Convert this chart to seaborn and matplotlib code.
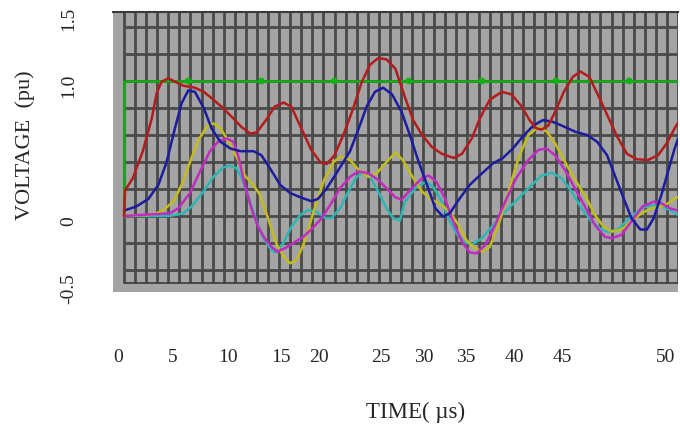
import numpy as np
import pandas as pd
import matplotlib
matplotlib.use("Agg")
import matplotlib.pyplot as plt
import seaborn as sns
from matplotlib.transforms import ScaledTranslation

# Dados (tempo em µs, tensão em pu)
red_t = [0, 0.1, 0.8, 1.7, 2.5, 2.95, 3.4, 4.0, 4.6, 5.35, 6.4, 7.2, 8.1, 8.8, 9.9,
         10.6, 11.4, 12.0, 12.9, 13.6, 14.4, 15.1, 16.0, 16.9, 17.7, 18.3, 19.0, 19.8,
         20.7, 21.45, 22.2, 22.95, 23.7, 24.5, 25.4, 26.1, 26.9, 27.8, 28.7, 29.75,
         30.5, 31.4, 32.1, 33.0, 34.1, 35.0, 35.9, 36.6, 37.2, 37.7, 38.3, 38.9, 39.7,
         40.5, 41.2, 42.0, 42.7, 43.6, 44.5, 45.4, 46.3, 47.3, 48.2, 49.0, 49.7, 50]
red_v = [0, 0.19, 0.28, 0.48, 0.72, 0.91, 0.995, 1.02, 0.995, 0.965, 0.95, 0.92, 0.86,
         0.81, 0.72, 0.66, 0.61, 0.62, 0.72, 0.81, 0.84, 0.81, 0.65, 0.49, 0.40, 0.385,
         0.45, 0.60, 0.80, 0.99, 1.12, 1.17, 1.16, 1.09, 0.87, 0.71, 0.60, 0.51, 0.46,
         0.43, 0.46, 0.575, 0.72, 0.86, 0.92, 0.90, 0.81, 0.71, 0.65, 0.64, 0.67, 0.77,
         0.92, 1.03, 1.07, 1.03, 0.91, 0.75, 0.59, 0.46, 0.42, 0.415, 0.45, 0.54, 0.65,
         0.69]

blue_t = [0, 1.1, 2.2, 3.1, 3.85, 4.6, 5.2, 5.8, 6.4, 7.2, 7.9, 8.7, 9.6, 10.5, 11.7,
          12.4, 13.2, 14.1, 15.0, 16.0, 16.9, 17.5, 18.3, 19.2, 20.4, 21.15, 21.9, 22.65,
          23.4, 24.2, 25.06, 25.8, 26.6, 27.35, 28.1, 28.8, 29.4, 30.3, 31.2, 32.1, 33.3,
          34.2, 35.1, 36.0, 36.95, 37.8, 38.6, 39.5, 40.7, 41.8, 42.7, 43.6, 44.3, 45.1,
          45.8, 46.6, 47.2, 47.8, 48.5, 49.1, 49.7, 50]
blue_v = [0.04, 0.07, 0.126, 0.23, 0.40, 0.65, 0.835, 0.93, 0.92, 0.80, 0.65, 0.55, 0.50,
          0.48, 0.48, 0.45, 0.35, 0.23, 0.17, 0.136, 0.11, 0.126, 0.205, 0.32, 0.48, 0.64,
          0.81, 0.92, 0.95, 0.90, 0.77, 0.60, 0.40, 0.23, 0.057, -0.005, 0.02, 0.13, 0.23,
          0.30, 0.39, 0.43, 0.50, 0.59, 0.67, 0.71, 0.70, 0.67, 0.625, 0.60, 0.55, 0.45,
          0.30, 0.13, -0.017, -0.10, -0.10, -0.017, 0.156, 0.33, 0.50, 0.57]

yellow_t = [0, 2.65, 3.55, 4.45, 5.2, 5.96, 6.7, 7.46, 8.06, 8.66, 9.4, 10.2, 10.9, 11.67,
            12.27, 13.0, 13.8, 14.5, 15.0, 15.6, 16.3, 17.1, 18.0, 18.9, 19.6, 20.4, 21.3,
            22.05, 22.8, 23.7, 24.5, 25.2, 25.96, 26.9, 27.8, 28.7, 29.4, 30.2, 30.9, 31.7,
            32.4, 33.0, 33.8, 34.7, 35.6, 36.5, 37.4, 38.15, 38.9, 39.8, 40.85, 41.76, 42.5,
            43.3, 44.0, 44.9, 45.8, 46.7, 47.6, 48.5, 49.1, 49.7, 50]
yellow_v = [0, 0.01, 0.044, 0.106, 0.23, 0.40, 0.56, 0.66, 0.686, 0.654, 0.56, 0.43, 0.30,
            0.23, 0.156, -0.017, -0.215, -0.31, -0.35, -0.326, -0.19, 0.03, 0.254, 0.40,
            0.44, 0.415, 0.33, 0.29, 0.316, 0.40, 0.47, 0.41, 0.30, 0.18, 0.12, 0.08, 0.03,
            -0.067, -0.18, -0.24, -0.264, -0.23, -0.067, 0.18, 0.43, 0.60, 0.66, 0.625, 0.54,
            0.40, 0.25, 0.13, 0.007, -0.08, -0.116, -0.10, -0.04, 0.02, 0.057, 0.07, 0.094,
            0.13, 0.14]

magenta_t = [0, 4.15, 4.9, 5.96, 6.86, 7.76, 8.5, 9.27, 9.87, 10.3, 10.9, 11.5, 12.1,
             12.7, 13.3, 13.8, 14.5, 15.3, 16.2, 16.9, 17.7, 18.6, 19.5, 20.4, 21.15, 22.05,
             22.95, 23.7, 24.46, 25.06, 25.96, 26.9, 27.5, 28.2, 28.97, 29.7, 30.5, 31.2,
             31.8, 32.6, 33.5, 34.4, 35.4, 36.5, 37.4, 38.15, 38.9, 39.8, 40.7, 41.6, 42.5,
             43.4, 44.0, 44.9, 45.8, 46.8, 47.8, 48.5, 49.27, 50]
magenta_v = [0, 0.02, 0.057, 0.17, 0.33, 0.48, 0.55, 0.575, 0.55, 0.45, 0.23, 0.057, -0.08,
             -0.165, -0.227, -0.264, -0.24, -0.20, -0.153, -0.10, -0.03, 0.08, 0.205, 0.29,
             0.33, 0.316, 0.267, 0.205, 0.14, 0.12, 0.205, 0.28, 0.30, 0.254, 0.13, -0.04,
             -0.19, -0.27, -0.277, -0.215, -0.067, 0.106, 0.28, 0.415, 0.49, 0.50, 0.45, 0.34,
             0.205, 0.07, -0.067, -0.153, -0.165, -0.14, -0.04, 0.07, 0.106, 0.094, 0.057,
             0.04]

cyan_t = [0, 4.15, 5.36, 6.1, 7.16, 8.06, 8.97, 9.57, 10.17, 10.77, 11.37, 11.97, 12.6,
          13.2, 13.6, 14.4, 15.1, 15.9, 16.6, 17.4, 18.1, 18.7, 19.5, 20.25, 21.0, 21.6,
          22.2, 22.95, 23.7, 24.3, 24.9, 25.36, 26.3, 27.2, 27.9, 28.7, 29.4, 30.2, 30.9,
          31.5, 32.3, 33.2, 34.1, 35.0, 35.9, 36.8, 37.7, 38.6, 39.5, 40.4, 41.3, 42.2,
          43.1, 43.8, 44.7, 45.6, 46.7, 47.6, 48.5, 49.27, 49.7, 50]
cyan_v = [0, 0, 0.02, 0.07, 0.18, 0.29, 0.36, 0.373, 0.353, 0.254, 0.106, -0.04, -0.165,
          -0.24, -0.27, -0.20, -0.08, 0.007, 0.044, 0.03, -0.012, -0.017, 0.057, 0.18,
          0.29, 0.32, 0.29, 0.18, 0.057, -0.017, -0.035, 0.106, 0.205, 0.254, 0.217, 0.106,
          -0.04, -0.153, -0.20, -0.207, -0.165, -0.08, 0.007, 0.08, 0.156, 0.23, 0.30,
          0.32, 0.28, 0.18, 0.057, -0.04, -0.10, -0.12, -0.09, -0.017, 0.057, 0.08, 0.07,
          0.044, 0.02, 0.01]

green_t = [0, 0, 50]
green_v = [0, 1.0, 1.0]
green_dot_t = [5.8, 12.4, 19.0, 25.7, 32.3, 39.0, 45.6]

x_labels = ["0", "5", "10", "15", "20", "25", "30", "35", "40", "45", "50"]
y_ticks = [-0.5, 0, 1.0, 1.5]
y_labels = ["-0.5", "0", "1.0", "1.5"]

# posição (px) dos rótulos do eixo x como aparecem na figura original
x_label_px = [118, 173, 228, 281, 319, 381, 424, 466, 514, 562, 666]

series = [
    ("green", green_t, green_v),
    ("cyan", cyan_t, cyan_v),
    ("yellow", yellow_t, yellow_v),
    ("magenta", magenta_t, magenta_v),
    ("blue", blue_t, blue_v),
    ("red", red_t, red_v),
]
cores = {"green": "#12b012", "cyan": "#2fb5b5", "magenta": "#c02cc0",
         "yellow": "#c2bc1c", "blue": "#1c1ca0", "red": "#b41c1c"}

df = pd.concat([pd.DataFrame({"t": t, "v": v, "trace": n}) for n, t, v in series],
               ignore_index=True)

sns.set_theme(style="white")
plt.rcParams["font.family"] = ["Liberation Serif", "DejaVu Serif"]

W, H = 680, 429
fig = plt.figure(figsize=(W / 100, H / 100), dpi=100)
ax = fig.add_axes([113 / W, 1 - 292 / H, (678 - 113) / W, (292 - 12) / H])
ax.set_facecolor("#a4a4a4")
ax.set_xlim(-0.99, 50)
ax.set_ylim(-0.563, 1.511)

# grade escura
grid_c = "#4a4a4a"
ax.vlines(np.arange(0, 51, 1), -0.5, 1.511, color=grid_c, lw=2.0, zorder=1)
ax.hlines(np.arange(-0.4, 1.41, 0.2), 0, 50, color=grid_c, lw=2.0, zorder=1)
ax.hlines([-0.5], 0, 50, color="#3a3a3a", lw=1.2, zorder=1)

sns.lineplot(data=df, x="t", y="v", hue="trace", palette=cores, sort=False,
             estimator=None, linewidth=1.8, legend=False, ax=ax, zorder=3)
for ln in ax.get_lines():
    ln.set_solid_joinstyle("round")
    ln.set_solid_capstyle("round")
sns.scatterplot(x=green_dot_t, y=[1.0] * len(green_dot_t), color=cores["green"],
                s=24, edgecolor="none", ax=ax, zorder=4)

for s in ax.spines.values():
    s.set_visible(False)
ax.spines["top"].set_visible(True)
ax.spines["top"].set_color("#3a3a3a")
ax.spines["top"].set_linewidth(1.5)

ax.set_xticks([])
ax.set_yticks(y_ticks)
ax.set_yticklabels(y_labels, rotation=90, va="center", fontsize=14)
ax.tick_params(axis="y", length=0, pad=26)
off = ScaledTranslation(0, -5 / 100, fig.dpi_scale_trans)
for lab in ax.get_yticklabels():
    lab.set_transform(lab.get_transform() + off)
ax.set_xlabel("")
ax.set_ylabel("")

for lab, px in zip(x_labels, x_label_px):
    fig.text(px / W, 1 - 357 / H, lab, ha="center", va="center", fontsize=14)

fig.text(416 / W, 1 - 412 / H, "TIME( µs)", ha="center", va="center", fontsize=16.5)
fig.text(25 / W, 1 - 145 / H, "VOLTAGE  (pu)", ha="center", va="center",
         rotation=90, fontsize=16)

fig.savefig("out.png", dpi=100)
plt.close(fig)
